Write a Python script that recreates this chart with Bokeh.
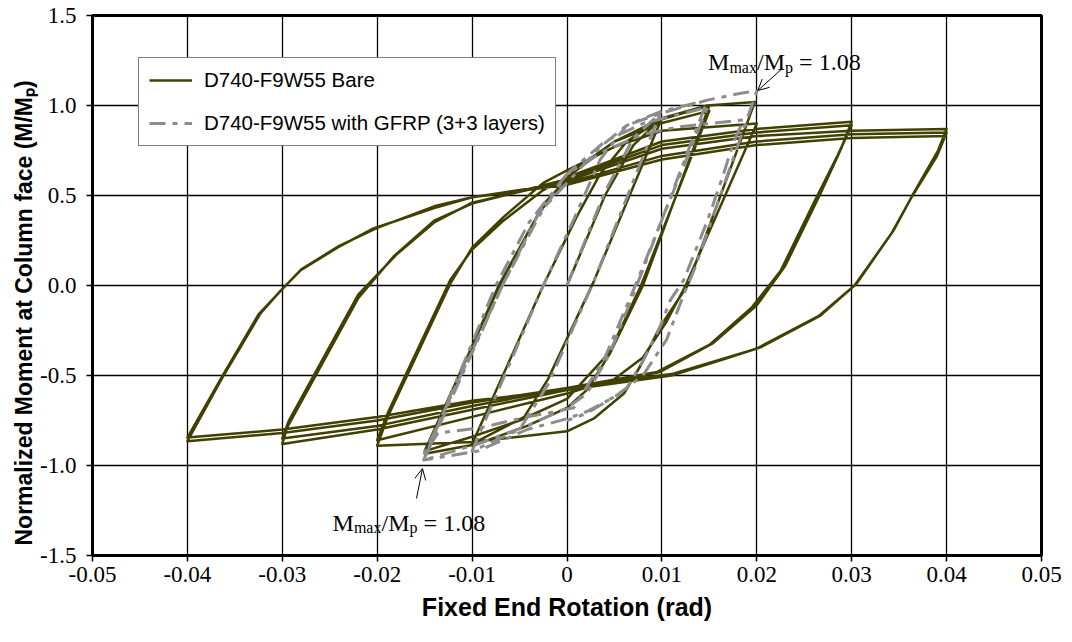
from bokeh.plotting import figure
from bokeh.models import Range1d, FixedTicker, Label, Arrow, OpenHead, Legend, LegendItem, Title
from bokeh.embed import file_html
from bokeh.resources import INLINE

# ---------------- data ----------------
x_ticks = [-0.05, -0.04, -0.03, -0.02, -0.01, 0.0, 0.01, 0.02, 0.03, 0.04, 0.05]
x_tick_labels = ["-0.05", "-0.04", "-0.03", "-0.02", "-0.01", "0", "0.01", "0.02", "0.03", "0.04", "0.05"]
y_ticks = [-1.5, -1.0, -0.5, 0.0, 0.5, 1.0, 1.5]
y_tick_labels = ["-1.5", "-1.0", "-0.5", "0.0", "0.5", "1.0", "1.5"]

series_names = ["D740-F9W55 Bare", "D740-F9W55 with GFRP (3+3 layers)"]

# Bare specimen: fixed end rotation (rad) / normalized moment (M/Mp), read along the loading path
bare_rot = [0.0, 0.004, 0.007, 0.01,
            0.0028, -0.002, -0.0045, -0.01,
            -0.0025, 0.001, 0.0035, 0.0063, 0.0098, 0.015,
            0.008, 0.0045, 0.0021, 0.0, -0.0042, -0.0094, -0.015,
            -0.0072, -0.003, 0.0, 0.005, 0.0098, 0.015,
            0.0078, 0.0045, 0.0, -0.005, -0.01, -0.015,
            -0.0071, -0.0025, 0.001, 0.005, 0.01, 0.0148, 0.0198,
            0.0127, 0.0098, 0.0077, 0.006, 0.0028, 0.0, -0.01, -0.02,
            -0.0189, -0.0123, -0.01, -0.0067, -0.0025, 0.0, 0.005, 0.01, 0.02,
            0.0125, 0.0105, 0.008, 0.005, 0.0, -0.01, -0.02,
            -0.0189, -0.0123, -0.01, -0.0067, -0.0025, 0.0, 0.01, 0.02, 0.03,
            0.0288, 0.0267, 0.023, 0.02, 0.0154, 0.0098, 0.0, -0.01, -0.02, -0.03,
            -0.0295, -0.022, -0.0183, -0.014, -0.01, 0.0, 0.01, 0.02, 0.03,
            0.0285, 0.0262, 0.0225, 0.0195, 0.015, 0.0095, 0.0, -0.01, -0.02, -0.03,
            -0.0293, -0.022, -0.018, -0.014, -0.01, 0.0, 0.01, 0.02, 0.03, 0.04,
            0.0391, 0.0365, 0.0344, 0.0305, 0.0267, 0.0204, 0.0169, 0.0112, 0.0, -0.01, -0.02, -0.03, -0.04,
            -0.0363, -0.0323, -0.0302, -0.0281, -0.0242, -0.0204, -0.014, -0.01, 0.0, 0.01, 0.02, 0.03, 0.04,
            0.039, 0.0363, 0.0342, 0.0303, 0.0265, 0.02, 0.0165, 0.011, 0.0, -0.01, -0.02, -0.03, -0.04,
            -0.0365, -0.0325, -0.03, -0.028, -0.024, -0.02, -0.014, -0.01, 0.0, 0.01, 0.02, 0.03, 0.04]
bare_mom = [0.0, 0.5, 0.78, 0.93,
            0.02, -0.52, -0.73, -0.88,
            0.0, 0.38, 0.62, 0.8, 0.92, 1.0,
            0.0, -0.38, -0.58, -0.68, -0.78, -0.88, -0.935,
            0.0, 0.4, 0.6, 0.8, 0.9, 0.97,
            0.0, -0.37, -0.63, -0.75, -0.84, -0.92,
            0.0, 0.45, 0.65, 0.8, 0.93, 1.0, 1.02,
            0.0, -0.23, -0.45, -0.6, -0.74, -0.81, -0.87, -0.89,
            -0.73, 0.01, 0.21, 0.38, 0.57, 0.64, 0.77, 0.86, 0.9,
            0.0, -0.2, -0.4, -0.52, -0.6, -0.73, -0.86,
            -0.71, 0.03, 0.2, 0.36, 0.53, 0.6, 0.8, 0.87, 0.91,
            0.75, 0.51, 0.11, -0.11, -0.32, -0.48, -0.58, -0.69, -0.8, -0.88,
            -0.79, -0.07, 0.16, 0.36, 0.455, 0.59, 0.78, 0.85, 0.89,
            0.72, 0.48, 0.08, -0.12, -0.33, -0.48, -0.57, -0.67, -0.78, -0.85,
            -0.75, -0.05, 0.17, 0.35, 0.46, 0.58, 0.76, 0.83, 0.86, 0.87,
            0.75, 0.51, 0.305, 0.01, -0.167, -0.344, -0.40, -0.49, -0.57, -0.65, -0.75, -0.82, -0.865,
            -0.51, -0.155, -0.03, 0.083, 0.21, 0.317, 0.43, 0.49, 0.57, 0.72, 0.8, 0.84, 0.85,
            0.72, 0.49, 0.29, 0.0, -0.17, -0.35, -0.41, -0.5, -0.58, -0.64, -0.73, -0.8, -0.845,
            -0.52, -0.16, -0.02, 0.09, 0.22, 0.32, 0.44, 0.49, 0.56, 0.7, 0.78, 0.82, 0.83]

# GFRP-strengthened specimen
gfrp_rot = [0.0, 0.004, 0.007, 0.0098,
            0.0028, -0.002, -0.005, -0.01,
            -0.0025, 0.001, 0.0035, 0.0063, 0.0098, 0.0148,
            0.0075, 0.0045, 0.0021, 0.0, -0.0042, -0.0094, -0.0151,
            -0.0068, -0.003, 0.0, 0.004, 0.008, 0.0148,
            0.0072, 0.004, 0.0007, -0.0042, -0.0091, -0.0136, -0.015,
            -0.0068, -0.003, 0.0035, 0.0063, 0.0098, 0.0148, 0.0185, 0.02,
            0.0135, 0.0123, 0.0105, 0.008, 0.005, 0.0021, 0.0, -0.0042, -0.0094, -0.0151,
            -0.0075, -0.004, 0.0, 0.004, 0.008, 0.0116, 0.0186,
            0.0175, 0.0165, 0.0148, 0.0123, 0.0109, 0.0098, 0.008, 0.0063, 0.0049, 0.0021, 0.0]
gfrp_mom = [0.0, 0.52, 0.82, 0.955,
            0.02, -0.55, -0.8, -0.92,
            0.0, 0.4, 0.7, 0.89, 0.965, 1.03,
            0.02, -0.38, -0.6, -0.68, -0.78, -0.88, -0.97,
            0.0, 0.38, 0.62, 0.8, 0.9, 0.99,
            0.0, -0.4, -0.68, -0.73, -0.79, -0.82, -0.93,
            0.0, 0.4, 0.77, 0.89, 0.955, 1.03, 1.07, 1.08,
            0.1, -0.05, -0.3, -0.5, -0.62, -0.7, -0.74, -0.8, -0.92, -0.97,
            0.0, 0.35, 0.62, 0.75, 0.84, 0.88, 0.92,
            0.79, 0.62, 0.36, 0.03, -0.08, -0.23, -0.42, -0.57, -0.62, -0.71, -0.75]

ann_text = ["M", "max", "/M", "p", "= 1.08"]

# ---------------- figure ----------------
p = figure(width=1064, height=634, output_backend="svg", toolbar_location=None,
           x_range=Range1d(-0.05, 0.05), y_range=Range1d(-1.5, 1.5),
           min_border_left=92, min_border_right=23, min_border_top=15, min_border_bottom=79,
           background_fill_color="white", border_fill_color="white")

p.outline_line_color = "black"
p.outline_line_width = 3
p.outline_line_alpha = 1

p.xaxis.ticker = FixedTicker(ticks=x_ticks)
p.yaxis.ticker = FixedTicker(ticks=y_ticks)
p.xaxis.major_label_overrides = {t: s for t, s in zip(x_ticks, x_tick_labels)}
p.yaxis.major_label_overrides = {t: s for t, s in zip(y_ticks, y_tick_labels)}
p.xgrid.ticker = FixedTicker(ticks=x_ticks)
p.ygrid.ticker = FixedTicker(ticks=y_ticks)

for ax in (p.xaxis[0], p.yaxis[0]):
    ax.axis_line_color = "black"
    ax.axis_line_width = 3
    ax.major_tick_line_color = "black"
    ax.major_tick_line_width = 1.5
    ax.major_tick_out = 6
    ax.major_tick_in = 0
    ax.minor_tick_line_color = None
    ax.major_label_text_font = "Liberation Serif"
    ax.major_label_text_font_size = "23px"
    ax.major_label_text_color = "black"
p.xaxis.major_label_standoff = 5
p.yaxis.major_label_standoff = 10

p.xaxis.axis_label = "Fixed End Rotation (rad)"
p.xaxis.axis_label_text_font = "Liberation Sans"
p.xaxis.axis_label_text_font_style = "bold"
p.xaxis.axis_label_text_font_size = "25px"
p.xaxis.axis_label_text_color = "black"
p.xaxis.axis_label_standoff = 8

ytitle = Title(text="Normalized Moment at Column face  (M/M\u209a)", align="left", offset=10,
               text_font="Liberation Sans", text_font_style="bold", text_font_size="23px",
               text_color="black", standoff=2)
p.add_layout(ytitle, "left")

for g in (p.xgrid[0], p.ygrid[0]):
    g.grid_line_color = "black"
    g.grid_line_width = 1.3
    g.grid_line_alpha = 1

# ---------------- series ----------------
r_bare = p.line(bare_rot, bare_mom, line_color="#404000", line_width=2.5, line_join="round")
r_gfrp = p.line(gfrp_rot, gfrp_mom, line_color="#8c8c8c", line_width=3,
                line_dash="16 7 5 7", line_join="round")

legend = Legend(items=[LegendItem(label=series_names[0], renderers=[r_bare]),
                       LegendItem(label=series_names[1], renderers=[r_gfrp])],
                location=(46, 409))
legend.label_text_font = "Liberation Sans"
legend.label_text_font_size = "20.5px"
legend.label_text_color = "black"
legend.glyph_width = 43
legend.glyph_height = 24
legend.label_height = 24
legend.spacing = 19
legend.padding = 10
legend.margin = 0
legend.label_standoff = 12
legend.border_line_color = "black"
legend.border_line_width = 1.5
legend.background_fill_color = "white"
legend.background_fill_alpha = 1
p.add_layout(legend, "center")

# ---------------- annotations ----------------
def mmax_label(x0, y_base, y_sub):
    offs = [0, 21.3, 48.9, 76.9, 91.0]
    sizes = ["24px", "16px", "24px", "16px", "24px"]
    ys = [y_base, y_sub, y_base, y_sub, y_base]
    for t, o, s, yy in zip(ann_text, offs, sizes, ys):
        p.add_layout(Label(x=x0, y=yy, x_offset=o, text=t, text_font="Liberation Serif",
                           text_font_size=s, text_align="left", text_baseline="alphabetic",
                           text_color="black"))

mmax_label(0.01487, 1.239, 1.211)
mmax_label(-0.0247, -1.317, -1.345)

p.add_layout(Arrow(end=OpenHead(size=11, line_width=1, line_color="black"),
                   x_start=0.0227, y_start=1.206, x_end=0.0201, y_end=1.083,
                   line_width=1, line_color="black"))
p.add_layout(Arrow(end=OpenHead(size=11, line_width=1, line_color="black"),
                   x_start=-0.01586, y_start=-1.183, x_end=-0.01523, y_end=-1.017,
                   line_width=1, line_color="black"))

open("out.html", "w").write(file_html(p, INLINE))
